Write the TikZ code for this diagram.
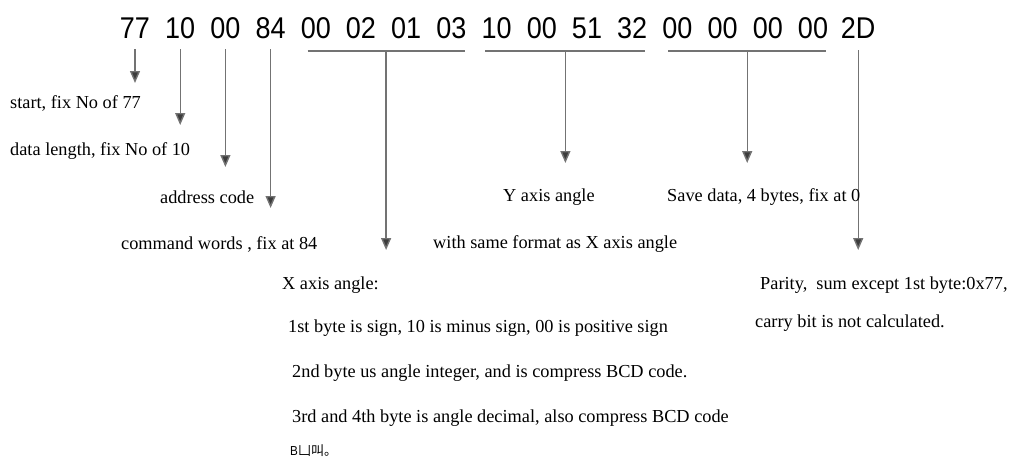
\documentclass[tikz,border=0pt]{standalone}
\usepackage{fontspec}
\setmainfont{Liberation Serif}
\newfontfamily\hexfont[FakeStretch=0.9]{Liberation Sans}
\newfontfamily\cjk{Noto Sans CJK SC}
\usepackage{xcolor}
\usetikzlibrary{arrows.meta, calc}
\definecolor{lineclr}{RGB}{115,115,115}
\definecolor{tipclr}{RGB}{60,60,60}

\begin{document}
\begin{tikzpicture}[x=1pt, y=-1pt,
    hexbyte/.style={inner sep=0pt, font=\hexfont\fontsize{30}{30}\selectfont},
    note/.style={anchor=west, inner sep=0pt, font=\fontsize{18.3}{20}\selectfont},
    pointer/.style={draw=lineclr, line width=1.4pt, -{Triangle[length=12pt, width=10pt, fill=tipclr]}},
    bracket/.style={draw=lineclr, line width=1.8pt}]
    \useasboundingbox (0,0) rectangle (1026,459);

    % the frame, byte by byte
    \foreach \b [count=\i from 0] in {77,10,00,84,00,02,01,03,10,00,51,32,00,00,00,00,2D}
        \node[hexbyte] (b\i) at (135+45.2*\i, 28.5) {\b};

    % levels where the arrows stop
    \coordinate (lv1) at (0,83);
    \coordinate (lv2) at (0,125);
    \coordinate (lv3) at (0,167);
    \coordinate (lv4) at (0,208);
    \coordinate (lv5) at (0,163);
    \coordinate (lv6) at (0,250);

    % single bytes
    \draw[pointer, shorten <=10pt] (b0.south) -- (b0.south |- lv1);
    \draw[pointer, shorten <=10pt] (b1.south) -- (b1.south |- lv2);
    \draw[pointer, shorten <=10pt] (b2.south) -- (b2.south |- lv3);
    \draw[pointer, shorten <=10pt] (b3.south) -- (b3.south |- lv4);
    \draw[pointer, shorten <=11pt] (b16.south) -- (b16.south |- lv6);

    % groups of four bytes
    \draw[bracket] ($(b4.south west)+(7,11.5)$) -- coordinate (xmid) ($(b7.south east)+(-2,11.5)$);
    \draw[bracket] ($(b8.south west)+(4,11.5)$) -- coordinate (ymid) ($(b11.south east)+(-2,11.5)$);
    \draw[bracket] ($(b12.south west)+(6,11.5)$) -- coordinate (smid) ($(b15.south east)+(-2,11.5)$);
    \draw[pointer] (xmid) -- (xmid |- lv6);
    \draw[pointer] (ymid) -- (ymid |- lv5);
    \draw[pointer] (smid) -- (smid |- lv5);

    % texts
    \node[note] (start) at (10,103) {start, fix No of 77};
    \node[note] (len) at (10,151) {data length, fix No of 10};
    \node[note] (addr) at (160,197) {address code};
    \node[note] (cmd) at (121,244) {command words , fix at 84};
    \node[note] (yang) at (503,197) {Y axis angle};
    \node[note] (save) at (667,197) {Save data, 4 bytes, fix at 0};
    \node[note] (yfmt) at (433,244) {with same format as X axis angle};
    \node[note] (xang) at (282,285) {X axis angle:};
    \node[note] (x1) at (288,328) {1st byte is sign, 10 is minus sign, 00 is positive sign};
    \node[note] (x2) at (292,373) {2nd byte us angle integer, and is compress BCD code.};
    \node[note] (x3) at (292,418) {3rd and 4th byte is angle decimal, also compress BCD code};
    \node[note, font=\fontsize{13}{13}\selectfont] (x4) at (290,451) {{\hexfont B}\cjk{凵叫。}};
    \node[note] (par) at (760,285) {Parity,\ \ sum except 1st byte:0x77,};
    \node[note] (carry) at (755,323) {carry bit is not calculated.};
\end{tikzpicture}
\end{document}
